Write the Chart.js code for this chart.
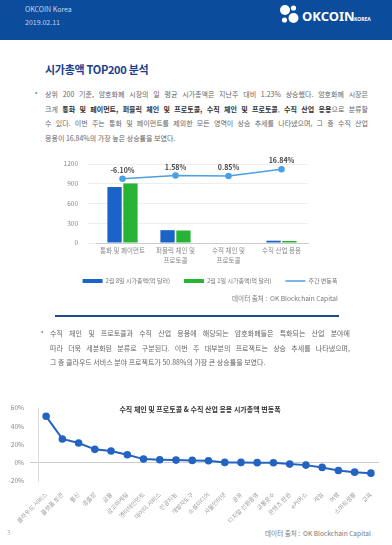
<!DOCTYPE html>
<html>
<head>
<meta charset="utf-8">
<script src="https://cdn.jsdelivr.net/npm/chart.js@4"></script>
<style>
  body { margin: 0; background: #fff; font-family: 'Noto Sans CJK KR', 'Noto Sans', sans-serif; }
  #page { position: relative; width: 392px; height: 545px; overflow: hidden; }
  .abs { position: absolute; }
  #header { left: 0; top: 0; width: 392px; height: 40px; background: #0b4c9c; }
  .htext { color: #c9d6ec; font-size: 7px; left: 25px; }
  #title { left: 45px; top: 61px; font-size: 11px; font-weight: bold; color: #1b3f8f; letter-spacing: -0.3px; }
  .para { color: #666; font-size: 7px; }
  .para div { text-align: justify; text-align-last: justify; white-space: nowrap; height: 14.5px; line-height: 14.5px; }
  .para div.last { text-align-last: left; }
  .para b { color: #333; }
  .bullet { color: #888; font-size: 7px; }
  .src { color: #777; font-size: 6.6px; }
</style>
</head>
<body>
<div id="page">
  <div id="header" class="abs"></div>
  <div class="abs htext" style="top:4px">OKCOIN Korea</div>
  <div class="abs htext" style="top:17px">2019.02.11</div>
  <svg class="abs" style="left:278px;top:3px" width="110" height="26">
    <circle cx="7" cy="7" r="5" fill="#fff"/>
    <circle cx="15.5" cy="5" r="2.6" fill="#fff"/>
    <circle cx="6.5" cy="17" r="2.6" fill="#fff"/>
    <circle cx="15.5" cy="15" r="5" fill="#fff"/>
    <text x="24" y="18" fill="#fff" font-size="13" font-weight="bold" font-family="Noto Sans, sans-serif">OKCOIN</text>
    <text x="76" y="18" fill="#fff" font-size="5" font-weight="bold" font-family="Noto Sans, sans-serif">KOREA</text>
  </svg>

  <div id="title" class="abs">시가총액 TOP200 분석</div>

  <div class="abs bullet" style="left:35px;top:87px">•</div>
  <div class="abs para" style="left:45px;top:87px;width:323px">
    <div>상위 200 기준, 암호화폐 시장의 일 평균 시가총액은 지난주 대비 1.23% 상승했다. 암호화폐 시장은</div>
    <div>크게 <b>통화 및 페이먼트, 퍼블릭 체인 및 프로토콜, 수직 체인 및 프로토콜</b>, <b>수직 산업 응용</b>으로 분류할</div>
    <div>수 있다. 이번 주는 통화 및 페이먼트를 제외한 모든 영역이 상승 추세를 나타냈으며, 그 중 수직 산업</div>
    <div class="last">응용이 16.84%의 가장 높은 상승률을 보였다.</div>
  </div>

  <div class="abs" style="left:60px;top:150px;width:300px;height:144px"><canvas id="chart1"></canvas></div>
  <div class="abs src" style="left:232px;top:293px">데이터 출처 : &nbsp;OK Blockchain Capital</div>
  <div class="abs" style="left:55px;top:315px;width:284px;height:1.5px;background:#1d4f86"></div>

  <div class="abs bullet" style="left:41px;top:326px">•</div>
  <div class="abs para" style="left:50px;top:326px;width:300px">
    <div>수직 체인 및 프로토콜과 수직 산업 응용에 해당되는 암호화폐들은 특화되는 산업 분야에</div>
    <div>따라 더욱 세분화된 분류로 구분된다. 이번 주 대부분의 프로젝트는 상승 추세를 나타냈으며,</div>
    <div class="last">그 중 클라우드 서비스 분야 프로젝트가 50.88%의 가장 큰 상승률을 보였다.</div>
  </div>

  <div class="abs" style="left:0px;top:398px;width:392px;height:127px"><canvas id="chart2"></canvas></div>
  <div class="abs" style="left:0;top:404px;width:400px;text-align:center;font-size:7px;font-weight:bold;color:#333">수직 체인 및 프로토콜 &amp; 수직 산업 응용 시가총액 변동폭</div>
  <div class="abs src" style="left:265px;top:528px">데이터 출처 : &nbsp;OK Blockchain Capital</div>
  <div class="abs" style="left:7px;top:528px;font-size:6px;color:#aaa">3</div>
</div>

<script>
// chart 1: market cap by sector
const sectors = [['통화 및 페이먼트'], ['퍼블릭 체인 및', '프로토콜'], ['수직 체인 및', '프로토콜'], ['수직 산업 응용']];
const capFeb8 = [850, 195, 8, 35];
const capFeb1 = [905, 190, 7, 30];
const weeklyChange = [-6.10, 1.58, 0.85, 16.84];
const capTicks = [0, 300, 600, 900, 1200];

// chart 2: change by industry
const industries = ['클라우드 서비스', '플랫폼 토큰', '통신', '경품장', '금융', '광고마케팅', '엔터테인먼트',
    '데이터 서비스', '인공지능', '개발자도구', '소셜미디어', '사물인터넷', '공유', '디지털 신원증명',
    '교통운수', '콘텐츠 판권', 'e커머스', '게임', '여행', '스마트생활', '교육'];
const industryChange = [50.88, 26.1, 21.7, 14.7, 12.9, 8.8, 4.0, 3.3, 2.9, 2.6, 2.2, 0.4, 0.4, 0.1, 0.0,
    -1.5, -2.6, -5.1, -8.5, -10.3, -11.4];
const pctTicks = [-20, -10, 0, 10, 20, 30, 40, 50, 60];

Chart.defaults.font.family = "'Noto Sans CJK KR', 'Noto Sans', sans-serif";
Chart.defaults.color = '#888';
Chart.defaults.animation = false;

document.addEventListener('DOMContentLoaded', () => {
    // labels over the weekly change line
    const pctLabels = {
        id: 'pctLabels',
        afterDatasetsDraw(chart) {
            const ctx = chart.ctx;
            const meta = chart.getDatasetMeta(2);
            ctx.save();
            ctx.font = "bold 7px 'Noto Sans CJK KR', sans-serif";
            ctx.fillStyle = '#444';
            ctx.textAlign = 'center';
            ctx.textBaseline = 'bottom';
            meta.data.forEach((pt, i) => {
                ctx.fillText(weeklyChange[i].toFixed(2) + '%', pt.x, pt.y - 5);
            });
            ctx.restore();
        }
    };

    new Chart(document.getElementById('chart1'), {
        type: 'bar',
        data: {
            labels: sectors,
            datasets: [
                {
                    label: '2월 8일 시가총액(억 달러)',
                    data: capFeb8,
                    backgroundColor: '#1b63c6',
                    categoryPercentage: 0.6,
                    barPercentage: 0.9,
                    order: 2
                },
                {
                    label: '2월 1일 시가총액(억 달러)',
                    data: capFeb1,
                    backgroundColor: '#27b435',
                    categoryPercentage: 0.6,
                    barPercentage: 0.9,
                    order: 2
                },
                {
                    type: 'line',
                    label: '주간 변동폭',
                    data: weeklyChange,
                    yAxisID: 'y1',
                    borderColor: '#4aa0e2',
                    backgroundColor: '#4aa0e2',
                    borderWidth: 1.5,
                    pointRadius: 2.5,
                    tension: 0,
                    order: 1
                }
            ]
        },
        options: {
            responsive: true,
            maintainAspectRatio: false,
            layout: { padding: { top: 14, bottom: 0, left: 0, right: 0 } },
            plugins: {
                tooltip: { enabled: false },
                legend: {
                    position: 'bottom',
                    labels: {
                        font: { size: 6 },
                        color: '#777',
                        usePointStyle: true,
                        pointStyleWidth: 20,
                        boxHeight: 4,
                        padding: 14,
                        generateLabels(chart) {
                            const items = Chart.defaults.plugins.legend.labels.generateLabels(chart);
                            items.sort((a, b) => a.datasetIndex - b.datasetIndex);
                            items.forEach(it => { it.pointStyle = it.datasetIndex < 2 ? 'rect' : 'line'; });
                            return items;
                        }
                    }
                }
            },
            scales: {
                x: {
                    grid: { display: false, drawTicks: false, tickLength: 0 },
                    border: { color: '#ccc' },
                    ticks: { font: { size: 6.5, lineHeight: 1.45 }, color: '#888', padding: 3, maxRotation: 0, autoSkip: false },
                    afterFit(s) { s.height = 21; }
                },
                y: {
                    min: 0,
                    max: 1200,
                    afterBuildTicks(s) { s.ticks = capTicks.map(v => ({ value: v })); },
                    grid: { color: '#eee' },
                    border: { display: false },
                    ticks: { font: { size: 6.5 }, color: '#888', padding: 10, callback: v => String(v) },
                    afterFit(s) { s.width = 36; }
                },
                y1: {
                    position: 'right',
                    min: -158.2,
                    max: 29.0,
                    grid: { display: false },
                    border: { display: false },
                    ticks: { display: false },
                    afterFit(s) { s.width = 52; }
                }
            }
        },
        plugins: [pctLabels]
    });

    new Chart(document.getElementById('chart2'), {
        type: 'line',
        data: {
            labels: industries,
            datasets: [{
                label: '변동폭',
                data: industryChange,
                borderColor: '#2363c2',
                backgroundColor: '#2363c2',
                borderWidth: 2,
                pointRadius: 2.8,
                tension: 0
            }]
        },
        options: {
            responsive: true,
            maintainAspectRatio: false,
            layout: { padding: { top: 10, right: 13, left: 0, bottom: 0 } },
            plugins: { legend: { display: false }, tooltip: { enabled: false } },
            scales: {
                x: {
                    offset: true,
                    grid: { display: false },
                    border: { display: false },
                    ticks: { font: { size: 6 }, color: '#9a9a9a', minRotation: 45, maxRotation: 45, padding: 2, autoSkip: false },
                    afterFit(s) { s.height = 44; }
                },
                y: {
                    min: -20,
                    max: 60,
                    afterBuildTicks(s) { s.ticks = pctTicks.map(v => ({ value: v })); },
                    grid: { color: ctx => ctx.tick && ctx.tick.value === 0 ? '#ccc' : 'transparent' },
                    border: { display: true, color: '#ddd' },
                    ticks: { font: { size: 6.5 }, color: '#888', padding: 6, callback: v => v + '%' },
                    afterFit(s) { s.width = 38; }
                }
            }
        }
    });
});
</script>
</body>
</html>
